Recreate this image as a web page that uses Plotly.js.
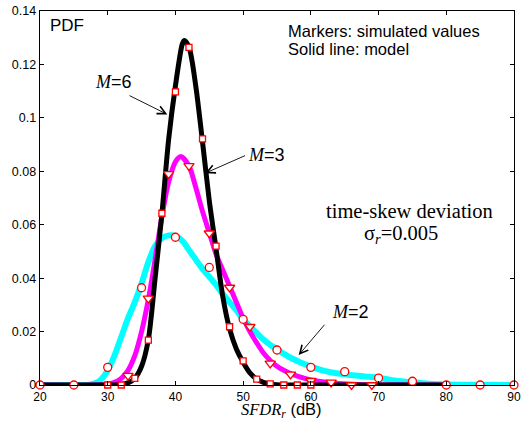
<!DOCTYPE html>
<html>
<head>
<meta charset="utf-8">
<script src="https://cdn.plot.ly/plotly-3.0.1.min.js"></script>
<style>html,body{margin:0;padding:0;background:#fff;}#chart{width:522px;height:421px;}</style>
</head>
<body>
<div id="chart"></div>
<script>
// Model curves (solid lines)
const m2LineX = [20,25,27,28,29,30,31,32,33,34,35,36,37,38,39,40,41,42,43,44,45,46,47,48,49,50,51,52,53,54,55,56,57,58,59,60,62,64,66,68,70,72,74,76,78,80,85,90];
const m2LineY = [0,0,0,0.0005,0.002,0.0055,0.011,0.018,0.025,0.031,0.038,0.046,0.052,0.055,0.056,0.0558,0.054,0.0505,0.047,0.0435,0.0405,0.0375,0.034,0.031,0.028,0.0245,0.022,0.0195,0.017,0.015,0.0133,0.0117,0.0102,0.009,0.0079,0.0069,0.0053,0.0043,0.0037,0.0032,0.0027,0.0018,0.0012,0.0008,0.0004,0.0002,0.0001,0];

const m3LineX = [20,28,30,31,32,33,34,35,36,37,38,39,40,40.8,42,43,44,45,46,47,48,49,50,51,52,53,54,55,56,57,58,60,62,64,67,70,80];
const m3LineY = [0,0,0.0003,0.001,0.0025,0.0055,0.011,0.02,0.032,0.047,0.063,0.076,0.0835,0.0855,0.082,0.074,0.065,0.057,0.049,0.043,0.037,0.031,0.025,0.02,0.0158,0.012,0.0092,0.007,0.0055,0.0043,0.0033,0.0019,0.0011,0.0006,0.0002,0.0001,0];

const m6LineX = [20,25,30,32,33,34,35,36,37,38,39,40,41,41.3,42,43,44,45,46,47,48,49,50,51,52,53,54,55,56,60,70,80];
const m6LineY = [0,0,0,0.0002,0.0008,0.0025,0.007,0.017,0.04,0.064,0.092,0.112,0.1275,0.129,0.1265,0.112,0.091,0.069,0.051,0.033,0.021,0.0135,0.0085,0.0045,0.0022,0.001,0.0004,0.0001,0,0,0,0];

// Simulated values (markers)
const m2SimX = [20,25,30,35,40,45,50,55,60,65,70,75,80,85,90];
const m2SimY = [0,0,0.0066,0.0364,0.0553,0.044,0.0246,0.0131,0.0066,0.005,0.0026,0.0014,0,0,0];

const m3SimX = [33,36,39,42,45,48,51,54,57,60,63,66,69];
const m3SimY = [0.0035,0.0324,0.079,0.082,0.0568,0.0365,0.0218,0.0081,0.004,0.0016,0.001,0,0];

const m6SimX = [30,32,34,36,38,40,42,44,46,48,50,52,54,56,58,60];
const m6SimY = [0,0,0.0025,0.0168,0.0643,0.1097,0.1264,0.0921,0.052,0.0218,0.009,0.0022,0.0004,0,0,0];

// Axis ticks
const xTickVals = [20,30,40,50,60,70,80,90];
const xTickText = ['20','30','40','50','60','70','80','90'];
const yTickVals = [0,0.02,0.04,0.06,0.08,0.1,0.12,0.14];
const yTickText = ['0','0.02','0.04','0.06','0.08','0.1','0.12','0.14'];

const SANS = 'Liberation Sans, Arial, sans-serif';
const SERIF = 'Liberation Serif, Times New Roman, serif';

function lineTrace(x, y, color, width) {
  return {x: x, y: y, type: 'scatter', mode: 'lines',
    line: {color: color, width: width, shape: 'spline', smoothing: 0.8},
    cliponaxis: false, hoverinfo: 'skip', showlegend: false};
}
function markerTrace(x, y, symbol, size) {
  return {x: x, y: y, type: 'scatter', mode: 'markers',
    marker: {symbol: symbol, size: size, color: '#ffffff', line: {color: '#ff0000', width: 1.3}},
    cliponaxis: false, hoverinfo: 'skip', showlegend: false};
}

const data = [
  lineTrace(m2LineX, m2LineY, '#00ffff', 6),
  lineTrace(m3LineX, m3LineY, '#ff00ff', 5),
  lineTrace(m6LineX, m6LineY, '#000000', 5),
  markerTrace(m2SimX, m2SimY, 'circle', 8),
  markerTrace(m3SimX, m3SimY, 'triangle-down', 9),
  markerTrace(m6SimX, m6SimY, 'square', 6)
];

const mLabel = n => '<span style="font-family:Liberation Serif;font-style:italic">M</span>=' + n;

function arrow(hx, hy, tx, ty) {
  return {x: hx, y: hy, ax: tx, ay: ty, xref: 'x', yref: 'y', axref: 'x', ayref: 'y',
    text: '', showarrow: true, arrowhead: 5, arrowsize: 1.8, arrowwidth: 0.9, arrowcolor: '#000', standoff: 0, startstandoff: 0};
}

const layout = {
  width: 522, height: 421,
  margin: {l: 40, r: 8, t: 11, b: 36},
  paper_bgcolor: '#fff', plot_bgcolor: '#fff',
  font: {family: SANS, size: 12, color: '#000'},
  xaxis: {range: [20, 90], tickvals: xTickVals, ticktext: xTickText,
    ticks: 'inside', ticklen: 4, tickcolor: '#000', showline: true, linecolor: '#000', linewidth: 1.3,
    mirror: 'ticks', showgrid: false, zeroline: false, tickfont: {size: 12}},
  yaxis: {range: [0, 0.14], tickvals: yTickVals, ticktext: yTickText,
    ticks: 'inside', ticklen: 4, tickcolor: '#000', showline: true, linecolor: '#000', linewidth: 1.3,
    mirror: 'ticks', showgrid: false, zeroline: false, tickfont: {size: 12.5}},
  annotations: [
    {x: 0.5105, y: -0.067, xref: 'paper', yref: 'paper', showarrow: false, xanchor: 'center', yanchor: 'middle',
     text: '<span style="font-family:Liberation Serif"><i>SFDR</i><sub><i>r</i></sub></span> (dB)', font: {size: 16.5}},
    {x: 21.14, y: 0.1344, xref: 'x', yref: 'y', text: 'PDF', showarrow: false, xanchor: 'left', yanchor: 'middle', font: {size: 17}},
    {x: 56.4, y: 0.1325, xref: 'x', yref: 'y', text: 'Markers: simulated values', showarrow: false, xanchor: 'left', yanchor: 'middle', font: {size: 16.5}},
    {x: 56.4, y: 0.1258, xref: 'x', yref: 'y', text: 'Solid line: model', showarrow: false, xanchor: 'left', yanchor: 'middle', font: {size: 16.5}},
    {x: 74.5, y: 0.0651, xref: 'x', yref: 'y', text: 'time-skew deviation', showarrow: false, xanchor: 'center', yanchor: 'middle', font: {family: SERIF, size: 20.5}},
    {x: 73.3, y: 0.0565, xref: 'x', yref: 'y', text: 'σ<sub><i>r</i></sub>=0.005', showarrow: false, xanchor: 'center', yanchor: 'middle', font: {family: SERIF, size: 20.5}},
    {x: 30.78, y: 0.1136, xref: 'x', yref: 'y', text: mLabel(6), showarrow: false, xanchor: 'center', yanchor: 'middle', font: {size: 18}},
    {x: 53.4, y: 0.0861, xref: 'x', yref: 'y', text: mLabel(3), showarrow: false, xanchor: 'center', yanchor: 'middle', font: {size: 18}},
    {x: 65.86, y: 0.0274, xref: 'x', yref: 'y', text: mLabel(2), showarrow: false, xanchor: 'center', yanchor: 'middle', font: {size: 18}},
    arrow(38.8, 0.1013, 33.0, 0.1086),
    arrow(44.4, 0.0793, 50.5, 0.0861),
    arrow(58.2, 0.0112, 62.2, 0.0231)
  ]
};

Plotly.newPlot('chart', data, layout, {staticPlot: true, displayModeBar: false});
</script>
</body>
</html>
